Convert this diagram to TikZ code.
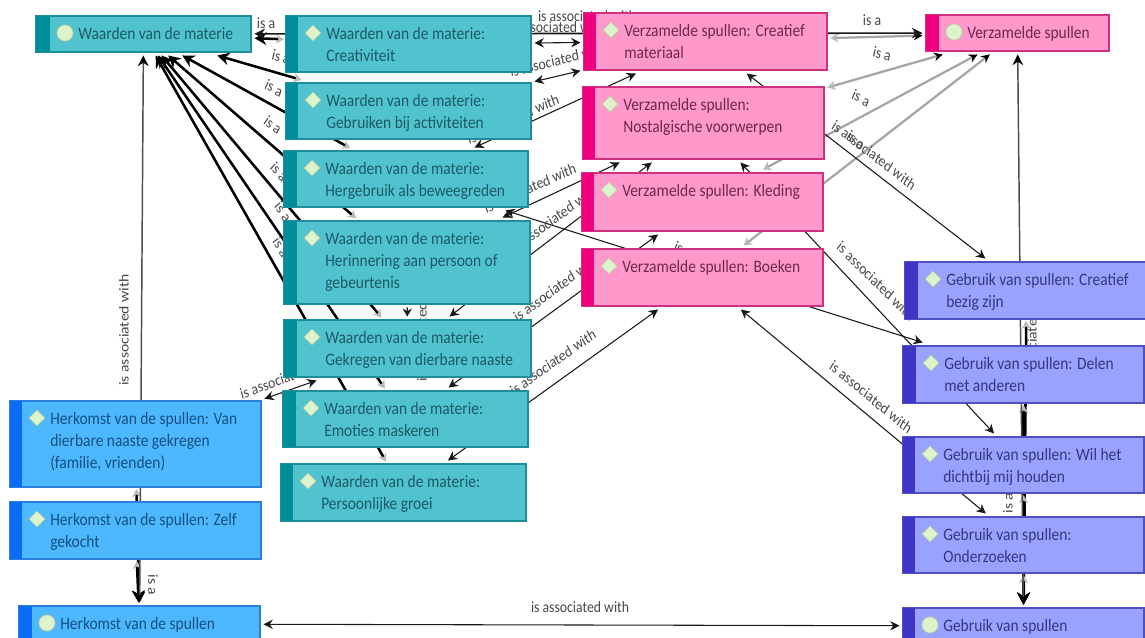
\documentclass[tikz,border=0pt]{standalone}
\usepackage{fontspec}
\setmainfont{Carlito}
\usetikzlibrary{arrows.meta,shapes.geometric}
\pgfdeclarelayer{bg}
\pgfsetlayers{bg,main}
\definecolor{tfill}{HTML}{50C3CF}\definecolor{tstrip}{HTML}{008E98}\definecolor{tedge}{HTML}{1E8F9A}\definecolor{ttext}{HTML}{1C5A66}
\definecolor{pfill}{HTML}{FF99CC}\definecolor{pstrip}{HTML}{EE007F}\definecolor{pedge}{HTML}{D0307F}\definecolor{ptext}{HTML}{70264F}
\definecolor{bfill}{HTML}{4DB8FF}\definecolor{bstrip}{HTML}{0A6CF5}\definecolor{bedge}{HTML}{2A80D8}\definecolor{btext}{HTML}{14507F}
\definecolor{ufill}{HTML}{99A3FF}\definecolor{ustrip}{HTML}{4034C4}\definecolor{uedge}{HTML}{5050C0}\definecolor{utext}{HTML}{36367F}
\definecolor{iconf}{HTML}{DDF3CC}\definecolor{icond}{HTML}{B8C8A0}
\tikzset{
  x=0.75pt,y=-0.75pt,
  boxnode/.style={rectangle,inner sep=0pt,outer sep=2.6pt,line width=0.8pt},
  iconnode/.style={inner sep=0pt,minimum width=12.2pt,minimum height=12.2pt,fill=iconf,draw=icond,line width=0.5pt},
  txtnode/.style={yscale=1.13,transform shape,anchor=north west,inner sep=0pt,align=left,font=\fontsize{11.6}{14.6}\selectfont},
  lab/.style={yscale=1.14,transform shape,inner sep=0pt,text=black!72,font=\fontsize{10.3}{12}\selectfont},
  isab/.style={line width=1.9pt,black,{Stealth[color=gray!55,length=6pt,width=7pt]}-{Stealth[color=black,length=9pt,width=9.5pt]},shorten <=-1pt},
  isag/.style={line width=1.7pt,gray!70,{Stealth[color=gray!55,length=6pt,width=7pt]}-{Stealth[color=black,length=6.5pt,width=6.5pt]}},
  asso/.style={line width=0.8pt,black!90,{Stealth[length=7pt,width=7pt]}-{Stealth[length=7pt,width=7pt]}},
  assotop/.style={line width=1.2pt,black!90,{Stealth[length=8pt,width=8pt]}-{Stealth[length=8pt,width=8pt]}},
  assoend/.style={line width=0.8pt,black!90,-{Stealth[length=6pt,width=7pt]}},
  assolong/.style={line width=1.1pt,black!70,{Stealth[color=black,length=8pt,width=8pt]}-{Stealth[color=black,length=8pt,width=8pt]}},
}
\newcommand{\cbox}[9]{%
  \node[boxnode,fill=#7fill,draw=#7edge,minimum width={(#4-#2)*0.75pt},minimum height={(#5-#3)*0.75pt}] (#1) at ({(#2+#4)/2},{(#3+#5)/2}) {};
  \fill[#7strip] (#2,#3) rectangle (#6,#5);
  \node[iconnode,#9] (#1-i) at ({#6+15},{#3+17}) {};
  \node[txtnode,text=#7text] (#1-t) at ({#6+28},{#3+11}) {#8};
}
\begin{document}
\begin{tikzpicture}
\useasboundingbox (0,0) rectangle (1145,638);
% teal
\cbox{wroot}{36}{16}{251}{52}{50}{t}{Waarden van de materie}{circle}
\cbox{wcre}{286}{16}{531}{72}{298}{t}{Waarden van de materie:\\Creativiteit}{diamond}
\cbox{wgeb}{286}{83}{531}{139}{298}{t}{Waarden van de materie:\\Gebruiken bij activiteiten}{diamond}
\cbox{wher}{284}{151}{528}{207}{297}{t}{Waarden van de materie:\\Hergebruik als beweegreden}{diamond}
\cbox{wrin}{284}{221}{530}{304}{297}{t}{Waarden van de materie:\\Herinnering aan persoon of\\gebeurtenis}{diamond}
\cbox{wgek}{284}{320}{531}{377}{297}{t}{Waarden van de materie:\\Gekregen van dierbare naaste}{diamond}
\cbox{wemo}{283}{391}{528}{447}{296}{t}{Waarden van de materie:\\Emoties maskeren}{diamond}
\cbox{wper}{281}{464}{526}{521}{293}{t}{Waarden van de materie:\\Persoonlijke groei}{diamond}
% blue
\cbox{hvan}{10}{401}{261}{487}{22}{b}{Herkomst van de spullen: Van\\dierbare naaste gekregen\\(familie, vrienden)}{diamond}
\cbox{hzelf}{10}{502}{261}{559}{22}{b}{Herkomst van de spullen: Zelf\\gekocht}{diamond}
\cbox{hroot}{19}{606}{260}{642}{32}{b}{Herkomst van de spullen}{circle}
% pink
\cbox{vcre}{584}{13}{827}{70}{596}{p}{Verzamelde spullen: Creatief\\materiaal}{diamond}
\cbox{vnos}{583}{87}{824}{159}{595}{p}{Verzamelde spullen:\\Nostalgische voorwerpen}{diamond}
\cbox{vkle}{582}{173}{823}{231}{594}{p}{Verzamelde spullen: Kleding}{diamond}
\cbox{vboe}{582}{249}{823}{306}{594}{p}{Verzamelde spullen: Boeken}{diamond}
\cbox{vroot}{926}{15}{1109}{51}{939}{p}{Verzamelde spullen}{circle}
% purple
\cbox{gcre}{905}{262}{1148}{319}{918}{u}{Gebruik van spullen: Creatief\\bezig zijn}{diamond}
\cbox{gdel}{903}{346}{1144}{403}{916}{u}{Gebruik van spullen: Delen\\met anderen}{diamond}
\cbox{gwil}{903}{437}{1144}{493}{915}{u}{Gebruik van spullen: Wil het\\dichtbij mij houden}{diamond}
\cbox{gond}{903}{517}{1144}{573}{915}{u}{Gebruik van spullen:\\Onderzoeken}{diamond}
\cbox{groot}{903}{608}{1144}{644}{915}{u}{Gebruik van spullen}{circle}
\begin{pgfonlayer}{bg}
% is a, teal
\draw[isab] (wcre) -- (wroot);
\draw[isab] (wgeb) -- (wroot);
\draw[isab] (wher) -- (wroot);
\draw[isab] (wrin) -- (wroot);
\draw[isab] (wgek) -- (wroot);
\draw[isab] (wemo) -- (wroot);
\draw[isab] (wper) -- (wroot);
% is a, blue
\draw[isab] (hvan) -- (hroot);
\draw[isab] (hzelf) -- (hroot);
% is a, purple
\draw[isab] (gcre) -- (groot);
\draw[isab] (gdel) -- (groot);
\draw[isab] (gwil) -- (groot);
\draw[isab] (gond) -- (groot);
% is a, pink
\draw[isag] (vcre) -- (vroot);
\draw[isag] (vnos) -- (vroot);
\draw[isag] (vkle) -- (vroot);
\draw[isag] (vboe) -- (vroot);
% associated
\draw[assotop] (wroot) -- (vroot);
\draw[asso] (wcre) -- (vcre);
\draw[asso] (wgeb) -- (vcre);
\draw[asso] (wher) -- (vcre);
\draw[asso] (wrin) -- (vnos);
\draw[asso] (wgek) -- (vnos);
\draw[asso] (wemo) -- (vkle);
\draw[asso] (wper) -- (vboe);
\draw[asso] (wgek) -- (hvan);
\draw[assoend] (wrin) -- (wgek);
\draw[asso] (wher) -- (gdel);
\draw[asso] (vcre) -- (gcre);
\draw[asso] (vnos) -- (gwil);
\draw[asso] (vboe) -- (gond);
\draw[assolong] (hroot) -- (wroot);
\draw[assolong] (groot) -- (vroot);
\draw[asso] (hroot) -- (groot);
% labels
\node[lab] (l1) at (266,23) {is a};
\node[lab,rotate=-15] (l2) at (281,57) {is a};
\node[lab,rotate=-26] (l3) at (274,88) {is a};
\node[lab,rotate=-37] (l4) at (273,125) {is a};
\node[lab,rotate=-46] (l5) at (279,172) {is a};
\node[lab,rotate=-53] (l6) at (283,212) {is a};
\node[lab,rotate=-57] (l7) at (281,247) {is a};
\node[lab,rotate=-90] (l8) at (153,585) {is a};
\node[lab,rotate=90] (l9) at (1008,503) {is a};
\node[lab] (l10) at (872,20) {is a};
\node[lab,rotate=-14] (l11) at (882,54) {is a};
\node[lab,rotate=-25] (l12) at (861,98) {is a};
\node[lab,rotate=-34] (l13) at (856,140) {is a};
\node[lab,rotate=-25] (l14) at (683,250) {is a};
\node[lab] (a1) at (587,16) {is associated with};
\node[lab] (a2) at (556,27) {is associated with};
\node[lab,rotate=12] (a3) at (558,60) {is associated with};
\node[lab,rotate=22] (a4) at (513,119) {is associated with};
\node[lab,rotate=22] (a5) at (530,188) {is associated with};
\node[lab,rotate=33] (a6) at (555,218) {is associated with};
\node[lab,rotate=33] (a7) at (556,288) {is associated with};
\node[lab,rotate=32] (a8) at (553,362) {is associated with};
\node[lab,rotate=18] (a9) at (287,377) {is associated with};
\node[lab,rotate=90] (a10) at (124,330) {is associated with};
\node[lab,rotate=90] (a11) at (1032,335) {is associated with};
\node[lab,rotate=90] (a12) at (422,326) {is associated with};
\node[lab] (a13) at (580,607) {is associated with};
\node[lab,rotate=-34] (a14) at (874,155) {is associated with};
\node[lab,rotate=-41] (a15) at (876,281) {is associated with};
\node[lab,rotate=-36] (a16) at (871,397) {is associated with};
\end{pgfonlayer}
\end{tikzpicture}
\end{document}
